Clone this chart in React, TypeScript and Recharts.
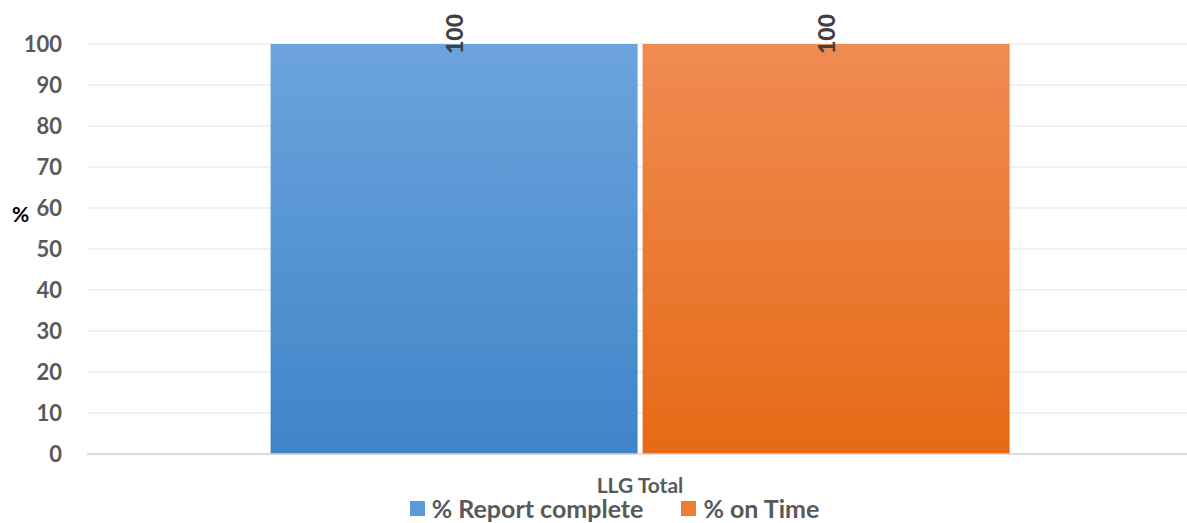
import React from "react"
import { Bar, BarChart, CartesianGrid, LabelList, Legend, XAxis, YAxis } from "recharts"

const categories = ["LLG Total"]
const reportComplete = [100]
const onTime = [100]
const yTicks = [0, 10, 20, 30, 40, 50, 60, 70, 80, 90, 100]

const data = categories.map((name, i) => ({
  name,
  report: reportComplete[i],
  onTime: onTime[i],
}))

const font = "Lato, 'Open Sans', sans-serif"

const series = [
  { key: "report", label: "% Report complete", fill: "url(#gradBlue)", swatch: "#5b9bd5" },
  { key: "onTime", label: "% on Time", fill: "url(#gradOrange)", swatch: "#ed7d31" },
]

const BarValue = (props: any) => {
  const { x, y, width, value } = props
  const cx = x + width / 2
  const cy = y - 10
  return (
    <text
      x={cx}
      y={cy}
      transform={`rotate(-90 ${cx} ${cy})`}
      textAnchor="middle"
      dominantBaseline="central"
      fill="#404040"
      style={{ fontSize: 23, fontWeight: 900, fontFamily: font }}
    >
      {value}
    </text>
  )
}

const LegendContent = () => (
  <div style={{ display: "flex", justifyContent: "center", gap: 38, fontFamily: font, fontWeight: 700, fontSize: 25, lineHeight: "29px", color: "#595959", marginLeft: 36 }}>
    {series.map((s) => (
      <div key={s.key} style={{ display: "flex", alignItems: "center", gap: 7 }}>
        <span style={{ width: 15, height: 15, background: s.swatch, display: "inline-block" }} />
        <span>{s.label}</span>
      </div>
    ))}
  </div>
)

export default function App() {
  return (
    <div style={{ position: "absolute", left: 0, top: 0, background: "#fff", overflow: "hidden", width: 1187, height: 523 }}>
      <BarChart
        width={1187}
        height={523}
        data={data}
        margin={{ top: 44, right: -6, left: 0, bottom: 0 }}
        barCategoryGap="16.6%"
        barGap={5}
      >
        <defs>
          <linearGradient id="gradBlue" x1="0" y1="0" x2="0" y2="1">
            <stop offset="0%" stopColor="#6ca3de" />
            <stop offset="100%" stopColor="#3f85c7" />
          </linearGradient>
          <linearGradient id="gradOrange" x1="0" y1="0" x2="0" y2="1">
            <stop offset="0%" stopColor="#f08b52" />
            <stop offset="100%" stopColor="#e66a16" />
          </linearGradient>
        </defs>
        <CartesianGrid vertical={false} stroke="#e3e3e3" strokeWidth={1} />
        <XAxis
          dataKey="name"
          height={40}
          axisLine={{ stroke: "#d4d4d4", strokeWidth: 1.5 }}
          tickLine={false}
          tickSize={0}
          tickMargin={24}
          tick={{ fill: "#595959", fontSize: 21, fontWeight: 700, fontFamily: font }}
        />
        <YAxis
          width={87}
          domain={[0, 100]}
          ticks={yTicks}
          interval={0}
          axisLine={false}
          tickLine={false}
          tickSize={0}
          tickMargin={25}
          tick={{ fill: "#595959", fontSize: 22, fontWeight: 700, fontFamily: font }}
          label={{
            content: (p: any) => (
              <text
                x={p.viewBox.x + 12}
                y={p.viewBox.y + p.viewBox.height / 2 - 27}
                fill="#000"
                fontSize={21}
                fontWeight={700}
                fontFamily={font}
              >
                %
              </text>
            ),
          }}
        />
        <Legend verticalAlign="bottom" height={29} content={<LegendContent />} />
        {series.map((s) => (
          <Bar key={s.key} dataKey={s.key} name={s.label} fill={s.fill} isAnimationActive={false}>
            <LabelList dataKey={s.key} content={<BarValue />} />
          </Bar>
        ))}
      </BarChart>
    </div>
  )
}
